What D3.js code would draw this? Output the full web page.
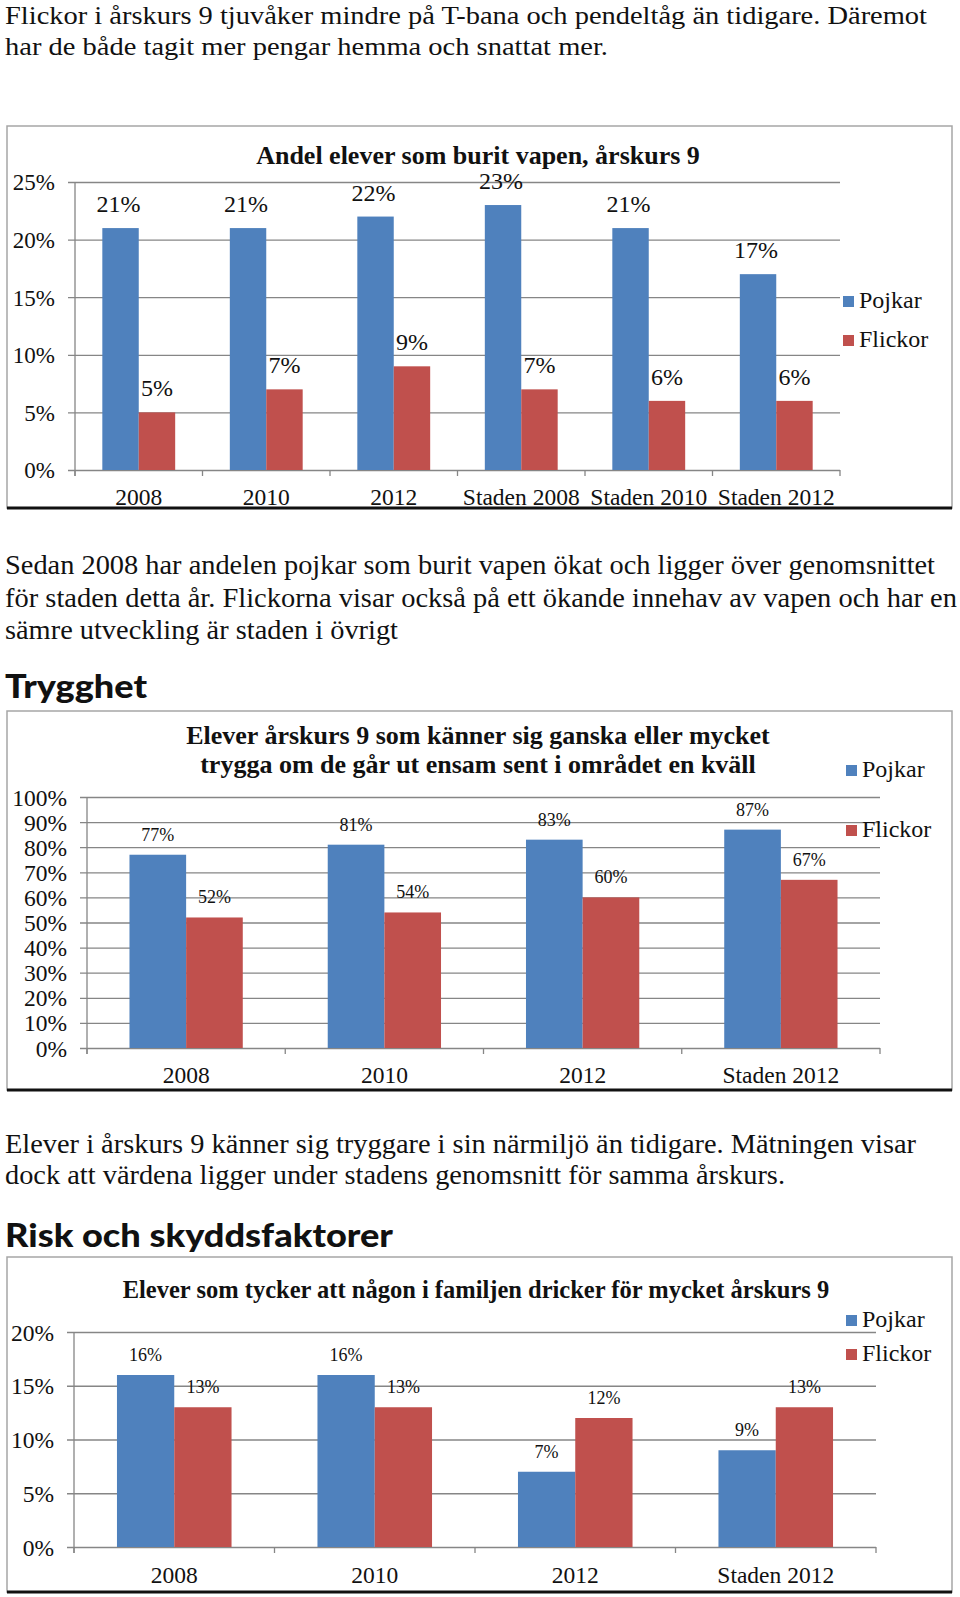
<!DOCTYPE html>
<html>
<head>
<meta charset="utf-8">
<script src="https://cdn.jsdelivr.net/npm/d3@7/dist/d3.min.js"></script>
<style>
  html, body { margin: 0; padding: 0; background: #fff; }
  svg { display: block; }
</style>
</head>
<body>
<script>
// ---------- DATA ----------
const seriesNames = ["Pojkar", "Flickor"];
const seriesColors = ["#4F81BD", "#C0504D"];

// Chart 1: Andel elever som burit vapen
const cats1 = ["2008", "2010", "2012", "Staden 2008", "Staden 2010", "Staden 2012"];
const pojkar1 = [0.21, 0.21, 0.22, 0.23, 0.21, 0.17];
const flickor1 = [0.05, 0.07, 0.09, 0.07, 0.06, 0.06];
const yTicks1 = [0, 0.05, 0.10, 0.15, 0.20, 0.25];

// Chart 2: Trygghet
const cats2 = ["2008", "2010", "2012", "Staden 2012"];
const pojkar2 = [0.77, 0.81, 0.83, 0.87];
const flickor2 = [0.52, 0.54, 0.60, 0.67];
const yTicks2 = [0, 0.1, 0.2, 0.3, 0.4, 0.5, 0.6, 0.7, 0.8, 0.9, 1.0];

// Chart 3: Risk och skyddsfaktorer
const cats3 = ["2008", "2010", "2012", "Staden 2012"];
const pojkar3 = [0.16, 0.16, 0.07, 0.09];
const flickor3 = [0.13, 0.13, 0.12, 0.13];
const yTicks3 = [0, 0.05, 0.10, 0.15, 0.20];

// ---------- TEXT ----------
const para1 = [
  "Flickor i årskurs 9 tjuvåker mindre på T-bana och pendeltåg än tidigare. Däremot",
  "har de både tagit mer pengar hemma och snattat mer."
];
const para2 = [
  "Sedan 2008 har andelen pojkar som burit vapen ökat och ligger över genomsnittet",
  "för staden detta år. Flickorna visar också på ett ökande innehav av vapen och har en",
  "sämre utveckling är staden i övrigt"
];
const para3 = [
  "Elever i årskurs 9 känner sig tryggare i sin närmiljö än tidigare. Mätningen visar",
  "dock att värdena ligger under stadens genomsnitt för samma årskurs."
];

const W = 960, H = 1597;
const serif = "'Liberation Serif', 'Times New Roman', Times, serif";
const svg = d3.select("body").append("svg").attr("width", W).attr("height", H);
svg.append("rect").attr("width", W).attr("height", H).attr("fill", "#fff");

function paragraph(lines, baselines, widths, size) {
  lines.forEach((t, i) => {
    svg.append("text")
      .attr("x", 5).attr("y", baselines[i])
      .attr("font-family", serif).attr("font-size", size || 27)
      .attr("fill", "#111")
      .attr("textLength", widths[i]).attr("lengthAdjust", "spacingAndGlyphs")
      .text(t);
  });
}
function heading(t, y, w) {
  svg.append("text")
    .attr("x", 5).attr("y", y)
    .attr("font-family", "Lato, 'DejaVu Sans', sans-serif")
    .attr("font-weight", 900).attr("font-size", 32)
    .attr("fill", "#111")
    .attr("textLength", w).attr("lengthAdjust", "spacingAndGlyphs")
    .text(t);
}

paragraph(para1, [24, 55], [922, 603], 26);
paragraph(para2, [574, 607, 639], [930, 952, 393]);
heading("Trygghet", 698, 142);
paragraph(para3, [1153, 1184], [911, 780]);
heading("Risk och skyddsfaktorer", 1247, 388);

function drawChart(o) {
  const g = svg.append("g");
  // box
  g.append("rect")
    .attr("x", o.box[0]).attr("y", o.box[1])
    .attr("width", o.box[2] - o.box[0]).attr("height", o.box[3] - o.box[1])
    .attr("fill", "#fff").attr("stroke", "#a6a6a6").attr("stroke-width", 1.5);
  g.append("line")
    .attr("x1", o.box[0]).attr("x2", o.box[2])
    .attr("y1", o.box[3]).attr("y2", o.box[3])
    .attr("stroke", "#111").attr("stroke-width", 3);

  const y = d3.scaleLinear().domain(o.yDomain).range([o.bottom, o.top]);
  const x = d3.scaleBand().domain(o.cats).range([o.left, o.right]).paddingInner(0).paddingOuter(0);
  const xs = d3.scaleBand().domain(seriesNames).range([0, x.bandwidth()]).paddingInner(0).paddingOuter(0.75);

  // y axis with gridlines
  const yAxis = d3.axisLeft(y).tickValues(o.yTicks)
    .tickFormat(d3.format(".0%"))
    .tickSizeInner(-(o.right - o.left)).tickSizeOuter(0)
    .tickPadding(o.yLabelGap);
  const ya = g.append("g").attr("transform", `translate(${o.left},0)`).call(yAxis);
  ya.attr("font-family", serif);
  ya.select(".domain").remove();
  ya.selectAll(".tick line").attr("x1", -7).attr("stroke", "#868686").attr("stroke-width", 1.3);
  ya.selectAll(".tick text")
    .attr("font-family", serif).attr("font-size", o.yFont).attr("fill", "#111")
    .attr("dy", "0.34em");

  // vertical axis line
  g.append("line")
    .attr("x1", o.left).attr("x2", o.left)
    .attr("y1", o.top).attr("y2", o.bottom + 6)
    .attr("stroke", "#868686").attr("stroke-width", 1.3);

  // category boundary ticks
  const bounds = o.cats.map(c => x(c)).concat([x(o.cats[o.cats.length - 1]) + x.bandwidth()]);
  g.selectAll(".bt").data(bounds).enter().append("line")
    .attr("x1", d => d).attr("x2", d => d)
    .attr("y1", o.bottom).attr("y2", o.bottom + 6)
    .attr("stroke", "#868686").attr("stroke-width", 1.3);

  // x axis labels
  const xAxis = d3.axisBottom(x).tickSize(0).tickPadding(0);
  const xa = g.append("g").attr("transform", `translate(0,${o.xLabelY})`).call(xAxis);
  xa.attr("font-family", serif);
  xa.select(".domain").remove();
  xa.selectAll(".tick text")
    .attr("font-family", serif).attr("font-size", o.xFont).attr("fill", "#111")
    .attr("dy", 0).attr("y", 0);

  // bars
  const rows = o.cats.map((c, i) => ({ cat: c, vals: [o.pojkar[i], o.flickor[i]] }));
  const grp = g.selectAll(".grp").data(rows).enter().append("g")
    .attr("transform", d => `translate(${x(d.cat)},0)`);
  const bars = grp.selectAll("rect").data(d => d.vals.map((v, k) => ({ v, k }))).enter();
  bars.append("rect")
    .attr("x", d => xs(seriesNames[d.k]))
    .attr("width", xs.bandwidth())
    .attr("y", d => y(d.v))
    .attr("height", d => y(0) - y(d.v))
    .attr("fill", d => seriesColors[d.k]);
  bars.append("text")
    .attr("x", d => xs(seriesNames[d.k]) + xs.bandwidth() / 2 + (d.k === 0 ? o.blueShift : 0))
    .attr("y", d => y(d.v) - o.labelGap)
    .attr("text-anchor", "middle")
    .attr("font-family", serif).attr("font-size", o.valFont).attr("fill", "#111")
    .text(d => d3.format(".0%")(d.v));

  // title
  o.title.forEach((t, i) => {
    g.append("text")
      .attr("x", o.titleX).attr("y", o.titleY[i])
      .attr("text-anchor", "middle")
      .attr("font-family", serif).attr("font-weight", "bold").attr("font-size", o.titleFont)
      .attr("fill", "#111")
      .text(t);
  });

  // legend
  seriesNames.forEach((s, i) => {
    g.append("rect")
      .attr("x", o.legX).attr("y", o.legY[i] - 12)
      .attr("width", 11).attr("height", 11)
      .attr("fill", seriesColors[i]);
    g.append("text")
      .attr("x", o.legX + 16).attr("y", o.legY[i])
      .attr("font-family", serif).attr("font-size", 24).attr("fill", "#111")
      .text(s);
  });
}

drawChart({
  box: [7, 126, 952, 508],
  cats: cats1, pojkar: pojkar1, flickor: flickor1,
  yDomain: [0, 0.25], yTicks: yTicks1,
  left: 75, right: 840, top: 182, bottom: 470,
  yLabelGap: 20, yFont: 23, xFont: 23.5, xLabelY: 505,
  valFont: 24, labelGap: 16, blueShift: -2,
  title: ["Andel  elever som burit vapen, årskurs 9"], titleFont: 26, titleX: 478, titleY: [164],
  legX: 843, legY: [308, 347]
});

drawChart({
  box: [7, 711, 952, 1090],
  cats: cats2, pojkar: pojkar2, flickor: flickor2,
  yDomain: [0, 1], yTicks: yTicks2,
  left: 87, right: 880, top: 797, bottom: 1048,
  yLabelGap: 20, yFont: 23.5, xFont: 23.5, xLabelY: 1083,
  valFont: 18, labelGap: 14, blueShift: 0,
  title: ["Elever årskurs 9  som känner sig ganska eller mycket",
          "trygga om de går ut ensam sent i området en kväll"],
  titleFont: 26, titleX: 478, titleY: [744, 773],
  legX: 846, legY: [777, 837]
});

drawChart({
  box: [7, 1257, 952, 1592],
  cats: cats3, pojkar: pojkar3, flickor: flickor3,
  yDomain: [0, 0.20], yTicks: yTicks3,
  left: 74, right: 876, top: 1332, bottom: 1547,
  yLabelGap: 20, yFont: 23.5, xFont: 23.5, xLabelY: 1583,
  valFont: 18, labelGap: 14, blueShift: 0,
  title: ["Elever som tycker att någon i familjen dricker för mycket årskurs 9"],
  titleFont: 24.5, titleX: 476, titleY: [1298],
  legX: 846, legY: [1327, 1361]
});
</script>
</body>
</html>
